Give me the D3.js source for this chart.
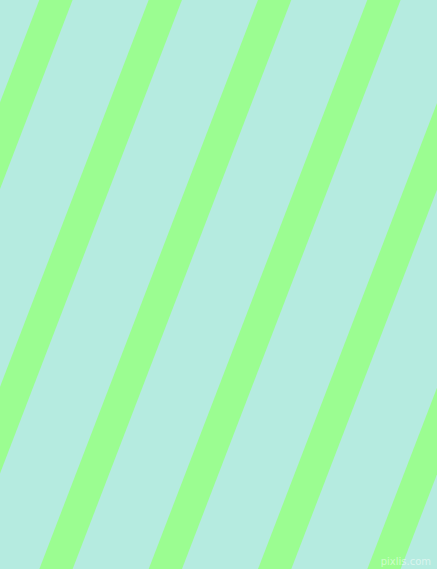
<!DOCTYPE html>
<html><head><meta charset="utf-8">
<script src="https://cdn.jsdelivr.net/npm/d3@7"></script>
<style>html,body{margin:0;padding:0;background:#b5ebe0;overflow:hidden}</style>
</head><body>
<script>
const stripeIndex = [-2, -1, 0, 1, 2, 3, 4, 5, 6];
const backgroundColor = "#b5ebe0";
const stripeColor = "#9bfd91";
const watermark = "pixlis.com";

const W = 437, H = 569;
const period = 109.33, offset = 39.3, bandW = 33.3, slope = 0.3842;
const x = d3.scaleLinear().domain([0, 1]).range([offset, offset + period]);

const svg = d3.select("body").append("svg").attr("width", W).attr("height", H);
svg.append("rect").attr("width", W).attr("height", H).attr("fill", backgroundColor);

const shift = slope * H;
svg.selectAll("polygon.s").data(stripeIndex).join("polygon")
  .attr("class", "s")
  .attr("fill", stripeColor)
  .attr("points", d => {
    const x0 = x(d);
    return [[x0, 0], [x0 + bandW, 0], [x0 + bandW - shift, H], [x0 - shift, H]].map(p => p.join(",")).join(" ");
  });

svg.append("text").attr("x", 431).attr("y", 565).attr("text-anchor", "end")
  .attr("font-family", "DejaVu Sans, sans-serif").attr("font-size", 10)
  .attr("fill", "#ffffff").attr("fill-opacity", 0.5).text(watermark);
</script>
</body></html>
